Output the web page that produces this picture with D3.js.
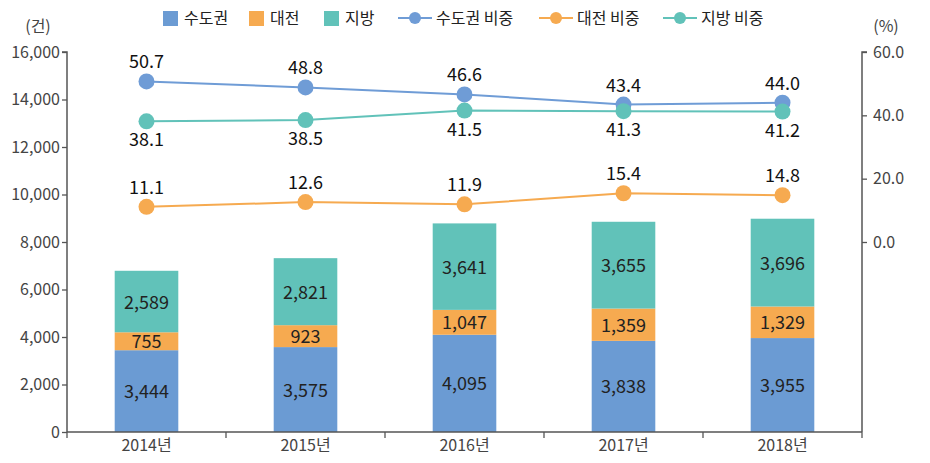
<!DOCTYPE html>
<html><head><meta charset="utf-8">
<script src="https://cdn.jsdelivr.net/npm/d3@7"></script>
<style>
body{margin:0;background:#fff;}
svg{display:block;font-family:"Noto Sans CJK KR","Noto Sans",sans-serif;}
</style></head>
<body><svg id="c" width="930" height="463"></svg>
<script>
const years = ["2014년","2015년","2016년","2017년","2018년"];
const capital = [3444,3575,4095,3838,3955];
const daejeon = [755,923,1047,1359,1329];
const regional = [2589,2821,3641,3655,3696];
const capitalShare = [50.7,48.8,46.6,43.4,44.0];
const daejeonShare = [11.1,12.6,11.9,15.4,14.8];
const regionalShare = [38.1,38.5,41.5,41.3,41.2];
const leftTicks = [0,2000,4000,6000,8000,10000,12000,14000,16000];
const rightTicks = [0,20,40,60];
const barNames = ["수도권","대전","지방"];
const lineNames = ["수도권 비중","대전 비중","지방 비중"];

const barColors = ["#6b9bd3","#f6aa50","#61c2b9"];
const lineColors = ["#6f9cd6","#f6aa50","#61c2b9"];

const svg = d3.select("#c");
const L = 67, R = 862, T = 52, B = 432;
const x = d3.scaleBand().domain(years).range([L,R]).paddingInner(0).paddingOuter(0);
const y = d3.scaleLinear().domain([0,16000]).range([B,T]);
const y2 = d3.scaleLinear().domain([-60,60]).range([B,T]);

// bars
const stackData = years.map((yr,i)=>({yr, v:[capital[i],daejeon[i],regional[i]]}));
const bw = x.bandwidth()*0.4;
stackData.forEach(d=>{
  let acc=0;
  d.v.forEach((v,k)=>{
    const y0=acc, y1=acc+v; acc=y1;
    const cx = x(d.yr)+x.bandwidth()/2;
    svg.append("rect").attr("x",cx-bw/2).attr("width",bw)
      .attr("y",y(y1)).attr("height",y(y0)-y(y1)).attr("fill",barColors[k]);
    svg.append("text").attr("x",cx).attr("y",(y(y0)+y(y1))/2+7)
      .attr("text-anchor","middle").attr("font-size",18).attr("fill","#222")
      .text(d3.format(",")(v));
  });
});

// axes
const axisColor="#555";
const gl = svg.append("g").attr("transform",`translate(${L},0)`)
  .call(d3.axisLeft(y).tickValues(leftTicks).tickFormat(d3.format(",")).tickSize(5).tickPadding(2));
const gr = svg.append("g").attr("transform",`translate(${R},0)`)
  .call(d3.axisRight(y2).tickValues(rightTicks).tickFormat(d3.format(".1f")).tickSize(5).tickPadding(6));
gr.select(".domain").attr("d",`M5,${T}H0V${B}`);
const gb = svg.append("g").attr("transform",`translate(0,${B})`)
  .call(d3.axisBottom(x).tickSize(0).tickPadding(8));
gb.select(".domain").attr("d",`M${L},0H${R}`);
// boundary ticks
const bounds = years.map(yy=>x(yy)).concat([R]);
gb.selectAll(".bt").data(bounds).enter().append("line")
  .attr("x1",d=>d).attr("x2",d=>d).attr("y1",0).attr("y2",6).attr("stroke",axisColor).attr("stroke-width",1.3);
[gl,gr,gb].forEach(g=>{
  g.selectAll(".domain").attr("stroke",axisColor).attr("stroke-width",1.5).attr("fill","none");
  g.selectAll(".tick line").attr("stroke",axisColor).attr("stroke-width",1.3);
  g.selectAll("text").attr("font-size",16).attr("fill","#444").attr("font-family","\"Noto Sans CJK KR\",sans-serif");
});
gl.select(".domain").attr("d",`M-5,${T}H0V${B}`);

svg.append("text").attr("x",38).attr("y",32).attr("text-anchor","middle").attr("font-size",16).attr("fill","#444").text("(건)");
svg.append("text").attr("x",886).attr("y",32).attr("text-anchor","middle").attr("font-size",16).attr("fill","#444").text("(%)");

// lines
const series = [capitalShare,daejeonShare,regionalShare];
const labelPos = [[-1,-1,-1,-1,-1],[-1,-1,-1,-1,-1],[1,1,1,1,1]];
const cxs = years.map(yy=>x(yy)+x.bandwidth()/2);
series.forEach((s,k)=>{
  const line = d3.line().x((d,i)=>cxs[i]).y(d=>y2(d));
  svg.append("path").datum(s).attr("d",line).attr("fill","none").attr("stroke",lineColors[k]).attr("stroke-width",2);
});
series.forEach((s,k)=>{
  s.forEach((v,i)=>{
    svg.append("circle").attr("cx",cxs[i]).attr("cy",y2(v)).attr("r",8).attr("fill",lineColors[k]);
  });
});
series.forEach((s,k)=>{
  s.forEach((v,i)=>{
    const dir = labelPos[k][i];
    svg.append("text").attr("x",cxs[i]).attr("y",y2(v)+(dir<0?-13:25))
      .attr("text-anchor","middle").attr("font-size",18).attr("fill","#111").text(d3.format(".1f")(v));
  });
});

// legend
const lg = svg.append("g");
const barLegX = [163,249,324];
barNames.forEach((n,k)=>{
  lg.append("rect").attr("x",barLegX[k]).attr("y",11).attr("width",15).attr("height",15).attr("fill",barColors[k]);
  lg.append("text").attr("x",barLegX[k]+21).attr("y",24).attr("font-size",16).attr("fill","#222").text(n);
});
const lineLegX = [398,539,663];
lineNames.forEach((n,k)=>{
  lg.append("line").attr("x1",lineLegX[k]).attr("x2",lineLegX[k]+34).attr("y1",18).attr("y2",18).attr("stroke",lineColors[k]).attr("stroke-width",2);
  lg.append("circle").attr("cx",lineLegX[k]+17).attr("cy",18).attr("r",6).attr("fill",lineColors[k]);
  lg.append("text").attr("x",lineLegX[k]+38).attr("y",24).attr("font-size",16).attr("fill","#222").text(n);
});
</script></body></html>
